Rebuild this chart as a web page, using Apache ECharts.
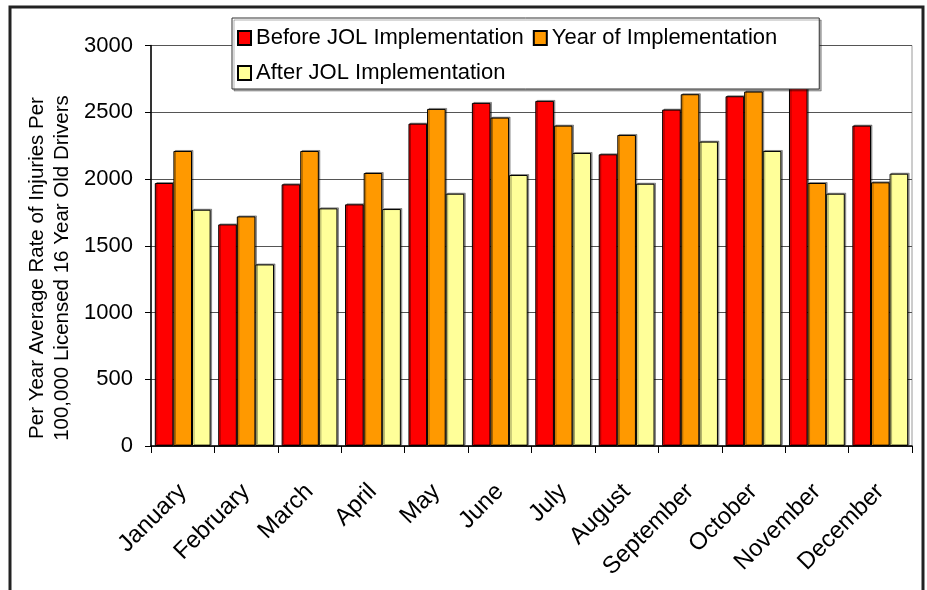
<!DOCTYPE html>
<html>
<head>
<meta charset="utf-8">
<script src="https://cdn.jsdelivr.net/npm/echarts@6/dist/echarts.min.js"></script>
<style>
  html, body { margin: 0; padding: 0; background: #fff; }
  #chart { width: 927px; height: 590px; }
</style>
</head>
<body>
<div id="chart"></div>
<script>
// Monthly injury rates per 100,000 licensed 16-year-old drivers
var months = ['January', 'February', 'March', 'April', 'May', 'June',
              'July', 'August', 'September', 'October', 'November', 'December'];
var beforeJOL = [1970, 1660, 1960, 1810, 2415, 2570, 2585, 2185, 2520, 2620, 2700, 2400];
var yearOfJOL = [2210, 1720, 2210, 2045, 2525, 2460, 2400, 2330, 2635, 2655, 1970, 1975];
var afterJOL  = [1770, 1360, 1780, 1775, 1890, 2030, 2195, 1965, 2280, 2210, 1890, 2040];
var seriesNames = ['Before JOL Implementation', 'Year of Implementation', 'After JOL Implementation'];
var seriesColors = ['#ff0000', '#ff9900', '#ffff99'];
var yTitle = ['Per Year Average Rate of Injuries Per', '100,000 Licensed 16 Year Old Drivers'];

var FONT = "'Liberation Sans', Arial, Helvetica, sans-serif";

function barSeries(name, data, color) {
  return {
    name: name,
    type: 'bar',
    data: data,
    barGap: '0%',
    barCategoryGap: '12%',
    itemStyle: {
      color: color,
      borderColor: '#000',
      borderWidth: 1,
      shadowColor: 'rgba(0,0,0,0.35)',
      shadowOffsetX: 1.5,
      shadowOffsetY: -1
    },
    emphasis: { disabled: true }
  };
}

var chart = echarts.init(document.getElementById('chart'), null, { renderer: 'canvas' });

chart.setOption({
  animation: false,
  backgroundColor: '#fff',
  grid: {
    left: 151, right: 15, top: 45.5, bottom: 144,
    show: true, borderColor: '#9a9a9a', borderWidth: 1, backgroundColor: 'transparent'
  },
  legend: {
    data: seriesNames,
    left: 232, top: 18,
    width: 560,
    orient: 'horizontal',
    padding: [7, 42, 3, 5],
    itemGap: 9,
    itemWidth: 13, itemHeight: 14,
    icon: 'rect',
    backgroundColor: '#fff',
    borderColor: '#333',
    borderWidth: 1,
    shadowColor: 'rgba(0,0,0,0.3)',
    shadowOffsetX: 2, shadowOffsetY: 2, shadowBlur: 0,
    z: 20,
    selectedMode: false,
    textStyle: { fontFamily: FONT, fontSize: 22, color: '#000', lineHeight: 26 }
  },
  xAxis: {
    type: 'category',
    data: months,
    axisLine: { lineStyle: { color: '#000', width: 1.5 } },
    axisTick: { show: true, length: 7, lineStyle: { color: '#000', width: 1 } },
    axisLabel: {
      rotate: 45, margin: 42, interval: 0,
      fontFamily: FONT, fontSize: 24, color: '#000'
    },
    splitLine: { show: false }
  },
  yAxis: {
    type: 'value',
    min: 0, max: 3000, interval: 500,
    axisLine: { show: true, lineStyle: { color: '#000', width: 1.5 } },
    axisTick: { show: true, length: 6, lineStyle: { color: '#000', width: 1 } },
    axisLabel: {
      margin: 18, fontFamily: FONT, fontSize: 22, color: '#000',
      formatter: function (v) { return String(v); }
    },
    splitLine: { show: true, lineStyle: { color: '#555', width: 1.2 } }
  },
  graphic: [
    {
      type: 'rect', z: 0,
      shape: { x: 10, y: 7, width: 913, height: 600 },
      style: { fill: 'none', stroke: '#222', lineWidth: 3 }
    },
    {
      type: 'text', x: 37, y: 268, rotation: Math.PI / 2,
      style: { text: yTitle[0], font: '20.5px ' + FONT, fill: '#000',
               textAlign: 'center', textVerticalAlign: 'middle' }
    },
    {
      type: 'text', x: 62, y: 268, rotation: Math.PI / 2,
      style: { text: yTitle[1], font: '20.5px ' + FONT, fill: '#000',
               textAlign: 'center', textVerticalAlign: 'middle' }
    }
  ],
  series: [
    barSeries(seriesNames[0], beforeJOL, seriesColors[0]),
    barSeries(seriesNames[1], yearOfJOL, seriesColors[1]),
    barSeries(seriesNames[2], afterJOL, seriesColors[2])
  ]
});
</script>
</body>
</html>
